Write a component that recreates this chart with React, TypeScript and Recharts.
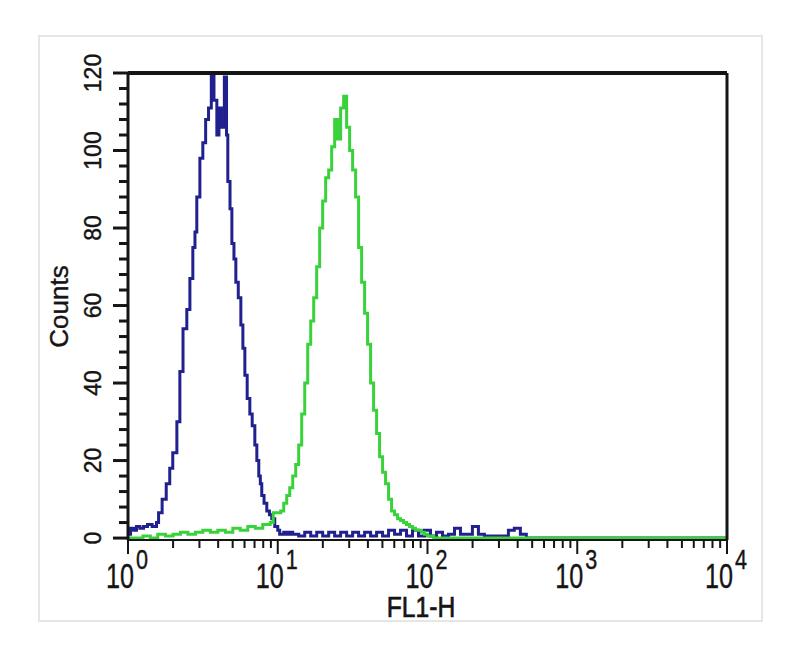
import { Line, LineChart, ReferenceLine, XAxis, YAxis } from "recharts"

// FL1-H channel values and event counts
const blueFl1 = [
  1.0, 1.04, 1.09, 1.14, 1.2, 1.27, 1.35, 1.45, 1.55, 1.6, 1.69, 1.8, 1.9, 1.99, 2.12, 2.22, 2.33, 2.47,
  2.59, 2.71, 2.8, 2.88, 3.02, 3.16, 3.3, 3.45, 3.6, 3.75, 3.92, 4.05, 4.2, 4.4, 4.55, 4.64, 4.8, 4.94,
  5.1, 5.25, 5.45, 5.67, 5.85, 6.03, 6.25, 6.51, 6.75, 7.03, 7.25, 7.47, 7.65, 7.82, 8.1, 8.45, 8.8,
  9.12, 9.55, 10.0, 10.3, 10.96, 11.48, 12.02, 12.59, 13.8, 15.14, 16.6, 18.2, 19.95, 21.88, 23.99,
  26.3, 28.84, 31.62, 34.67, 38.02, 41.69, 45.71, 50.12, 54.95, 60.26, 66.07, 72.44, 79.43, 87.1, 95.5,
  104.7, 114.8, 125.9, 138, 151.4, 166, 182, 199.5, 218.8, 240, 263, 288, 316, 347, 380, 417, 457,
  500, 10000,
]
const blueCounts = [
  1, 2.5, 2, 3, 2.5, 3, 3.5, 3, 4, 6.5, 10, 14, 18, 22, 30, 43, 54, 59,
  67, 75, 79, 88, 98, 102, 108, 111, 121, 113, 104, 111, 106, 119, 104, 92, 85, 76,
  72, 66, 62, 55, 49, 42, 36, 32, 29, 24, 20, 16, 14, 11, 9, 7, 6,
  5, 3, 2, 1, 1.5, 1, 1.5, 1, 0.5, 1.5, 0.5, 1.5, 0.5, 1.5, 0.5,
  1.5, 0.5, 1.5, 0.5, 1.5, 0.5, 1.5, 0.5, 2, 1, 2, 0.5, 2, 0.5, 2,
  0.5, 1.5, 0.5, 1, 2.5, 1, 1, 3, 1, 0.5, 0.5, 0.5, 0.5, 2, 2.5, 1, 0,
  0, 0,
]

const greenFl1 = [
  1.0, 1.26, 1.41, 1.58, 1.78, 2.0, 2.24, 2.51, 2.82, 3.16, 3.55, 3.98, 4.47, 5.01, 5.62, 6.31, 7.08,
  7.94, 8.91, 9.33, 10.0, 10.47, 10.96, 11.48, 12.02, 12.59, 13.18, 13.8, 14.45, 15.14, 15.85, 16.6,
  17.38, 18.2, 19.05, 19.95, 20.89, 21.88, 22.91, 23.99, 25.12, 26.3, 27.54, 28.84, 30.2, 31.62, 33.11,
  34.67, 36.31, 38.02, 39.81, 41.69, 43.65, 45.71, 47.86, 50.12, 52.48, 54.95, 57.54, 60.26, 63.1,
  66.07, 69.18, 72.44, 75.86, 79.43, 83.18, 87.1, 91.2, 95.5, 100, 110, 10000,
]
const greenCounts = [
  0, 0.5, 0, 1, 0.5, 1, 1.5, 1, 1.5, 2, 1.5, 2, 1.5, 2.5, 2, 3, 2.5,
  3.5, 4, 6.5, 6.5, 7, 9, 11, 13, 16, 19, 24, 32, 40, 50, 56,
  62, 70, 80, 87, 93, 95, 101, 108, 103, 111, 114, 106, 100, 95, 88,
  75, 66, 58, 50, 40, 33, 27, 21, 17, 14, 10, 7, 6, 5,
  4.5, 4, 3.5, 3, 2.5, 2, 2, 1.5, 1, 0.5, 0, 0,
]

const yTicks = [0, 4, 8, 12, 16, 20, 24, 28, 32, 36, 40, 44, 48, 52, 56, 60, 64, 68, 72, 76, 80, 84, 88, 92, 96, 100, 104, 108, 112, 116, 120]
const xTicks = [
  1, 2, 3, 4, 5, 6, 7, 8, 9, 10, 20, 30, 40, 50, 60, 70, 80, 90, 100, 200, 300, 400, 500, 600, 700, 800, 900,
  1000, 2000, 3000, 4000, 5000, 6000, 7000, 8000, 9000, 10000,
]
const decades = [1, 10, 100, 1000, 10000]
const decadeExponents = ["0", "1", "2", "3", "4"]

const blueData = blueFl1.map((v, i) => ({ v, c: blueCounts[i] }))
const greenData = greenFl1.map((v, i) => ({ v, c: greenCounts[i] }))

const FONT = '"Liberation Sans", Arial, Helvetica, sans-serif'
const INK = "#151515"

function YTick({ x, y, payload }: any) {
  const v = payload.value
  const major = v % 20 === 0
  return (
    <g>
      <line x1={x - (major ? 15 : 9)} x2={x} y1={y} y2={y} stroke={INK} strokeWidth={3} />
      {major && (
        <text
          transform={`translate(${x - 27},${y}) rotate(-90)`}
          textAnchor="middle"
          fontFamily={FONT}
          fontSize={23}
          fill={INK}
          stroke={INK}
          strokeWidth={0.4}
        >
          {v}
        </text>
      )}
    </g>
  )
}

function XTick({ x, y, payload }: any) {
  const v = payload.value
  const idx = decades.indexOf(v)
  const major = idx >= 0
  return (
    <g>
      <line x1={x} x2={x} y1={y} y2={y + (major ? 14 : 8)} stroke={INK} strokeWidth={2} />
      {major && (
        <g fill={INK} stroke={INK} strokeWidth={0.4} fontFamily={FONT}>
          <text transform={`translate(${x + 6},${y + 48}) scale(0.72,1)`} textAnchor="end" fontSize={35}>
            10
          </text>
          <text transform={`translate(${x + 8},${y + 29}) scale(0.8,1)`} textAnchor="start" fontSize={27}>
            {decadeExponents[idx]}
          </text>
        </g>
      )}
    </g>
  )
}

function CountsLabel({ viewBox }: any) {
  const cx = viewBox.x + 40
  const cy = viewBox.y + viewBox.height / 2
  return (
    <text
      transform={`translate(${cx},${cy}) rotate(-90)`}
      textAnchor="middle"
      fontFamily={FONT}
      fontSize={26}
      fill={INK}
      stroke={INK}
      strokeWidth={0.4}
    >
      Counts
    </text>
  )
}

function Fl1Label({ viewBox }: any) {
  const cx = viewBox.x + 293
  const cy = viewBox.y + 77
  return (
    <text
      transform={`translate(${cx},${cy}) scale(0.85,1)`}
      textAnchor="middle"
      fontFamily={FONT}
      fontSize={29}
      fill={INK}
      stroke={INK}
      strokeWidth={0.7}
    >
      FL1-H
    </text>
  )
}

export default function App() {
  return (
    <div style={{ position: "absolute", left: 0, top: 0, width: 800, height: 656, background: "#fff" }}>
      <div
        style={{
          position: "absolute",
          left: 38,
          top: 35,
          width: 725,
          height: 587,
          border: "2px solid #e6e6e6",
          boxSizing: "border-box",
        }}
      />
      <div style={{ position: "absolute", left: 0, top: 0 }}>
        <LineChart width={800} height={656} margin={{ top: 73, right: 73, left: 28, bottom: 26 }}>
          <XAxis
            dataKey="v"
            type="number"
            scale="log"
            domain={[1, 10000]}
            allowDataOverflow
            ticks={xTicks}
            interval={0}
            tickSize={0}
            tickMargin={0}
            tickLine={false}
            tick={<XTick />}
            height={90}
            axisLine={{ stroke: INK, strokeWidth: 2 }}
            label={<Fl1Label />}
          />
          <YAxis
            type="number"
            domain={[-0.5, 120]}
            allowDataOverflow
            ticks={yTicks}
            interval={0}
            tickSize={0}
            tickMargin={0}
            tickLine={false}
            tick={<YTick />}
            width={100}
            axisLine={{ stroke: INK, strokeWidth: 3 }}
            label={<CountsLabel />}
          />
          <Line data={blueData} dataKey="c" type="stepAfter" stroke="#20208e" strokeWidth={3} dot={false} isAnimationActive={false} />
          <Line data={greenData} dataKey="c" type="stepAfter" stroke="#3ad23a" strokeWidth={3} dot={false} isAnimationActive={false} />
          <ReferenceLine y={120} stroke={INK} strokeWidth={4} />
          <ReferenceLine x={10000} stroke={INK} strokeWidth={3} />
        </LineChart>
      </div>
    </div>
  )
}
